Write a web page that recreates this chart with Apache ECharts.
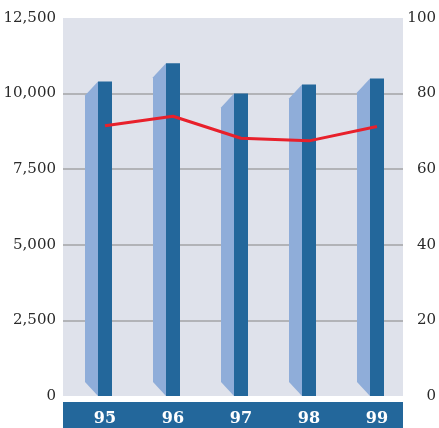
<!DOCTYPE html>
<html>
<head>
<meta charset="utf-8">
<script src="https://cdn.jsdelivr.net/npm/echarts@6/dist/echarts.min.js"></script>
<style>
  html, body { margin: 0; padding: 0; background: #ffffff; }
  #chart { width: 439px; height: 428px; }
</style>
</head>
<body>
<div id="chart"></div>
<script>
// Years along the bottom band
const years = ['95', '96', '97', '98', '99'];
// Column values (left axis)
const volumes = [10400, 11000, 10000, 10300, 10500];
// Line values (right axis)
const ratios = [71.5, 74.0, 68.2, 67.5, 71.3];
// Tick settings
const leftMax = 12500, leftStep = 2500;
const rightMax = 100, rightStep = 20;

const DARK = '#23679b';
const LIGHT = '#8fadd9';
const GRIDLINE = '#a3a3a6';
const serif = '"DejaVu Serif", "Liberation Serif", serif';

// Front face sits 8px right of the category centre; the line and labels follow it
const FRONT_SHIFT = 8;
const SLOT = 341 / years.length;
const shift = FRONT_SHIFT / SLOT;

const chart = echarts.init(document.getElementById('chart'), null, { renderer: 'canvas' });

// Each column: a dark front face plus a light bevelled side face on its left
function renderColumn(params, api) {
  const idx = api.value(0);
  const top = api.coord([idx, api.value(1)]);
  const base = api.coord([idx, 0]);
  const cx = top[0];
  const frontL = cx + FRONT_SHIFT - 7, frontR = cx + FRONT_SHIFT + 7;
  const sideL = frontL - 13;
  const bevel = 14;
  return {
    type: 'group',
    children: [
      {
        type: 'polygon',
        shape: { points: [[sideL, top[1] + bevel], [frontL, top[1]], [frontL, base[1]], [sideL, base[1] - bevel]] },
        style: { fill: LIGHT }
      },
      {
        type: 'rect',
        shape: { x: frontL, y: top[1], width: frontR - frontL, height: base[1] - top[1] },
        style: { fill: DARK }
      }
    ]
  };
}

const option = {
  animation: false,
  backgroundColor: '#ffffff',
  grid: {
    left: 63, right: 35, top: 18, bottom: 32,
    show: true, backgroundColor: '#dfe2eb', borderWidth: 0
  },
  xAxis: [
    {
      type: 'category',
      data: years,
      boundaryGap: true,
      axisTick: { show: false },
      axisLine: { show: true, onZero: false, lineStyle: { color: DARK, width: 26, cap: 'butt' } },
      offset: 19,
      axisLabel: {
        color: '#ffffff', fontFamily: serif, fontWeight: 'bold', fontSize: 16,
        verticalAlign: 'middle', margin: 4, padding: [0, 0, 0, FRONT_SHIFT * 2]
      }
    },
    {
      // hidden axis carrying the line, shifted to the front-face centres
      type: 'value',
      show: false,
      min: -0.5 - shift,
      max: years.length - 0.5 - shift
    }
  ],
  yAxis: [
    {
      type: 'value', min: 0, max: leftMax, interval: leftStep,
      axisLine: { show: false }, axisTick: { show: false },
      splitLine: {
        show: true,
        lineStyle: { color: ['transparent', GRIDLINE, GRIDLINE, GRIDLINE, GRIDLINE, 'transparent'], width: 1.5 }
      },
      axisLabel: {
        color: '#2a2a2a', fontFamily: serif, fontSize: 15, margin: 7,
        formatter: v => v.toLocaleString('en-US')
      }
    },
    {
      type: 'value', min: 0, max: rightMax, interval: rightStep,
      position: 'right',
      axisLine: { show: false }, axisTick: { show: false },
      splitLine: { show: false },
      axisLabel: {
        color: '#2a2a2a', fontFamily: serif, fontSize: 15, margin: 33, align: 'right'
      }
    }
  ],
  series: [
    {
      type: 'custom',
      xAxisIndex: 0,
      yAxisIndex: 0,
      renderItem: renderColumn,
      encode: { x: 0, y: 1 },
      data: volumes.map((v, i) => [i, v]),
      z: 2
    },
    {
      type: 'line',
      xAxisIndex: 1,
      yAxisIndex: 1,
      data: ratios.map((v, i) => [i, v]),
      symbol: 'none',
      lineStyle: { color: '#e8202b', width: 3 },
      z: 3
    }
  ]
};

chart.setOption(option);
</script>
</body>
</html>
